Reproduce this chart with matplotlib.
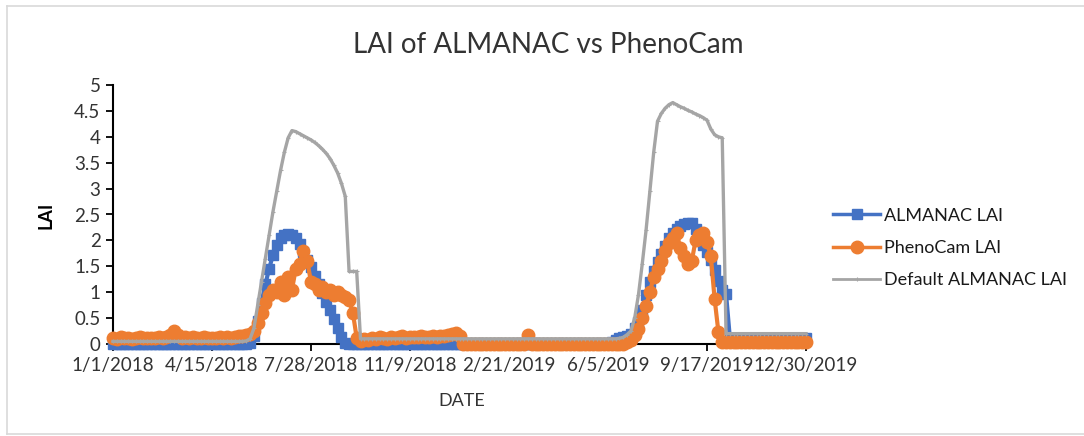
import pandas as pd
import matplotlib
matplotlib.use("Agg")
import matplotlib.pyplot as plt
from matplotlib.lines import Line2D

plt.rcParams['font.family'] = ['Lato', 'DejaVu Sans']

# one value every 4 days, 1/1/2018 .. 12/30/2019
dates = pd.date_range("2018-01-01", "2019-12-30", freq="4D")

almanac = [
    0, 0, 0, 0, 0, 0, 0, 0, 0, 0,
    0, 0, 0, 0, 0, 0, 0, 0, 0, 0,
    0, 0, 0, 0, 0, 0, 0, 0, 0, 0,
    0, 0, 0, 0, 0, 0, 0.02, 0.15, 0.45, 0.8,
    1.15, 1.45, 1.72, 1.92, 2.05, 2.1, 2.12, 2.1, 2.05, 1.93,
    1.78, 1.63, 1.48, 1.32, 1.16, 0.99, 0.82, 0.65, 0.48, 0.3,
    0.13, 0.02, 0, 0, 0, 0, 0, 0, 0, 0,
    0, 0, 0, 0, 0, 0, 0, 0, 0, 0,
    0, 0, 0, 0, 0, 0, 0, 0, 0, 0,
    0, 0, 0, 0, 0, 0, 0, 0, 0, 0,
    0, 0, 0, 0, 0, 0, 0, 0, 0, 0,
    0, 0, 0, 0, 0, 0, 0, 0, 0, 0,
    0, 0, 0, 0, 0, 0, 0, 0, 0, 0,
    0, 0.03, 0.08, 0.12, 0.13, 0.15, 0.2, 0.3, 0.42, 0.65,
    0.95, 1.2, 1.4, 1.58, 1.74, 1.9, 2.05, 2.15, 2.22, 2.28,
    2.32, 2.34, 2.33, 2.22, 2.08, 1.92, 1.78, 1.62, 1.42, 1.22,
    1.05, 0.97, 0.12, 0.12, 0.12, 0.12, 0.12, 0.12, 0.12, 0.12,
    0.12, 0.12, 0.12, 0.12, 0.12, 0.12, 0.12, 0.12, 0.12, 0.12,
    0.12, 0.12, 0.12,
]

phenocam = [
    0.12, 0.1, 0.13, 0.11, 0.12, 0.1, 0.12, 0.13, 0.11, 0.12,
    0.12, 0.11, 0.13, 0.12, 0.14, 0.18, 0.25, 0.17, 0.12, 0.13,
    0.12, 0.13, 0.11, 0.12, 0.13, 0.12, 0.11, 0.12, 0.13, 0.12,
    0.13, 0.12, 0.14, 0.15, 0.16, 0.18, 0.2, 0.25, 0.4, 0.6,
    0.8, 0.95, 1.05, 1.0, 1.2, 0.95, 1.3, 1.05, 1.45, 1.55,
    1.8, 1.6, 1.2, 1.15, 1.05, 1.1, 1.0, 1.05, 0.95, 1.0,
    0.95, 0.9, 0.85, 0.6, 0.12, 0.05, 0.1, 0.08, 0.12, 0.1,
    0.13, 0.12, 0.1, 0.14, 0.12, 0.13, 0.15, 0.12, 0.14, 0.13,
    0.14, 0.15, 0.13, 0.14, 0.15, 0.14, 0.16, 0.15, 0.17, 0.2,
    0.22, 0.15, 0, 0, 0, 0, 0, 0, 0, 0,
    0, 0, 0, 0, 0, 0, 0, 0, 0, 0.18,
    0, 0, 0, 0, 0, 0, 0, 0, 0, 0,
    0, 0, 0, 0, 0, 0, 0, 0, 0, 0,
    0, 0, 0, 0, 0, 0.03, 0.08, 0.18, 0.29, 0.5,
    0.73, 1.0, 1.3, 1.45, 1.6, 1.8, 1.95, 2.05, 2.15, 1.85,
    1.7, 1.55, 1.6, 2.0, 2.1, 2.15, 1.96, 1.7, 0.87, 0.23,
    0.03, 0.03, 0.03, 0.03, 0.03, 0.03, 0.03, 0.03, 0.03, 0.03,
    0.03, 0.03, 0.03, 0.03, 0.03, 0.03, 0.03, 0.03, 0.03, 0.03,
    0.03, 0.03, 0.03,
]

default_almanac = [
    0.05, 0.05, 0.05, 0.05, 0.05, 0.05, 0.05, 0.05, 0.05, 0.05,
    0.05, 0.05, 0.05, 0.05, 0.05, 0.05, 0.05, 0.05, 0.05, 0.05,
    0.05, 0.05, 0.05, 0.05, 0.05, 0.05, 0.05, 0.05, 0.05, 0.05,
    0.05, 0.05, 0.05, 0.05, 0.05, 0.06, 0.1, 0.3, 0.75, 1.2,
    1.65, 2.1, 2.55, 2.95, 3.35, 3.7, 3.98, 4.12, 4.1, 4.06,
    4.02, 3.98, 3.94, 3.89, 3.83, 3.76, 3.68, 3.58, 3.45, 3.3,
    3.1, 2.85, 1.4, 1.4, 1.4, 0.1, 0.1, 0.1, 0.1, 0.1,
    0.1, 0.1, 0.1, 0.1, 0.1, 0.1, 0.1, 0.1, 0.1, 0.1,
    0.1, 0.1, 0.1, 0.1, 0.1, 0.1, 0.1, 0.1, 0.1, 0.1,
    0.1, 0.1, 0.1, 0.1, 0.1, 0.1, 0.1, 0.1, 0.1, 0.1,
    0.1, 0.1, 0.1, 0.1, 0.1, 0.1, 0.1, 0.1, 0.1, 0.1,
    0.1, 0.1, 0.1, 0.1, 0.1, 0.1, 0.1, 0.1, 0.1, 0.1,
    0.1, 0.1, 0.1, 0.1, 0.1, 0.1, 0.1, 0.1, 0.1, 0.1,
    0.1, 0.1, 0.1, 0.11, 0.13, 0.18, 0.25, 0.5, 0.95, 1.55,
    2.2, 2.95, 3.7, 4.3, 4.45, 4.55, 4.62, 4.66, 4.62, 4.58,
    4.55, 4.51, 4.48, 4.44, 4.41, 4.37, 4.32, 4.15, 4.04, 4.0,
    3.98, 0.2, 0.2, 0.2, 0.2, 0.2, 0.2, 0.2, 0.2, 0.2,
    0.2, 0.2, 0.2, 0.2, 0.2, 0.2, 0.2, 0.2, 0.2, 0.2,
    0.2, 0.2, 0.2,
]

tick_labels = ["1/1/2018", "4/15/2018", "7/28/2018", "11/9/2018",
               "2/21/2019", "6/5/2019", "9/17/2019", "12/30/2019"]
y_ticks = [0, 0.5, 1, 1.5, 2, 2.5, 3, 3.5, 4, 4.5, 5]

blue = '#4472C4'
orange = '#ED7D31'
gray = '#A5A5A5'

W, H = 1084, 436
fig = plt.figure(figsize=(W / 100, H / 100), dpi=100)
ax = fig.add_axes([113 / W, 1 - 344 / H, (806 - 113) / W, (344 - 85) / H])

ax.plot(dates, almanac, color=blue, lw=3, marker='s', ms=6.5,
        clip_on=False, zorder=3)
ax.plot(dates, phenocam, color=orange, lw=3, marker='o', ms=9,
        clip_on=False, zorder=4)
ax.plot(dates, default_almanac, color=gray, lw=2.4, marker='+', ms=3,
        mew=0.8, clip_on=False, zorder=5)

ax.set_xlim(pd.Timestamp("2018-01-01"), pd.Timestamp("2019-12-30"))
ax.set_ylim(0, 5)
ax.set_xticks(pd.to_datetime(tick_labels, format="%m/%d/%Y"))
ax.set_xticklabels(tick_labels)
ax.set_yticks(y_ticks)
ax.set_yticklabels([f"{v:g}" for v in y_ticks])
ax.tick_params(axis='both', labelsize=13.5, labelcolor='#333333',
               length=5, width=1.3, direction='out', pad=4, color='black')
for s in ['top', 'right']:
    ax.spines[s].set_visible(False)
for s in ['left', 'bottom']:
    ax.spines[s].set_linewidth(1.5)
    ax.spines[s].set_color('black')
    ax.spines[s].set_zorder(2)

fig.text(548 / W, 1 - 45 / H, "LAI of ALMANAC vs PhenoCam", ha='center',
         va='center', fontsize=20, color='#333333')
fig.text(46 / W, 1 - 215 / H, "LAI", rotation=90, ha='center', va='center',
         fontsize=13, fontweight='bold', color='black')
fig.text(462 / W, 1 - 401 / H, "DATE", ha='center', va='center',
         fontsize=13, color='#333333')

handles = [
    Line2D([], [], color=blue, lw=2.5, marker='s', ms=7),
    Line2D([], [], color=orange, lw=2.5, marker='o', ms=9),
    Line2D([], [], color=gray, lw=2, marker='+', ms=3, mew=0.8),
]
fig.legend(handles, ["ALMANAC LAI", "PhenoCam LAI", "Default ALMANAC LAI"],
           loc='center left', bbox_to_anchor=(817 / W, 1 - 248 / H),
           frameon=False, fontsize=13, handlelength=2.6, handletextpad=0.2,
           labelspacing=0.9, labelcolor='#1a1a1a')

# faint chart-area border
for xs, ys in [([7 / W, 1], [1 - 6 / H, 1 - 6 / H]),
               ([7 / W, 7 / W], [1 - 6 / H, 1 - 434 / H]),
               ([7 / W, 1], [1 - 434 / H, 1 - 434 / H])]:
    fig.add_artist(Line2D(xs, ys, transform=fig.transFigure,
                          color='#d9d9d9', lw=1.2))

fig.savefig("out.png", dpi=100)
